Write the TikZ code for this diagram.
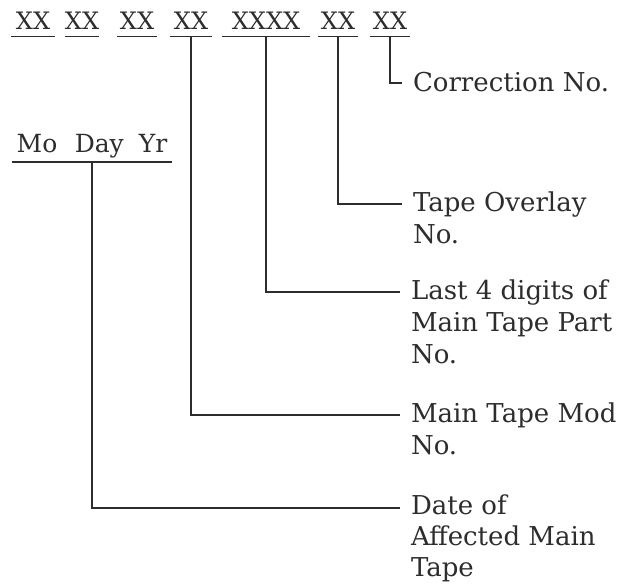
\documentclass[tikz,border=0pt]{standalone}
\usepackage{fontspec}
\setmainfont{DejaVu Serif}
\usetikzlibrary{positioning}
\definecolor{ink}{RGB}{45,45,45}
\tikzset{
  code/.style={anchor=base, inner xsep=0pt, inner ysep=6.5pt, text depth=0pt,
               font=\fontsize{24}{28}\selectfont, text=ink},
  rule/.style={draw=ink, line width=1.4pt},
  lbl/.style={anchor=north west, align=left, inner sep=0pt, outer xsep=12pt,
              outer ysep=0pt, font=\fontsize{26}{32}\selectfont, text=ink},
}

\begin{document}
\begin{tikzpicture}[x=1pt, y=-1pt,
      tap/.style={rule, line cap=rect}]
    \useasboundingbox (0,0) rectangle (629,585);
    % part number code
    \node[code, minimum width=43pt] (d1) at (33,30) {XX};
    \node[code, minimum width=34pt] (d2) at (82,30) {XX};
    \node[code, minimum width=40pt] (d3) at (137,30) {XX};
    \node[code, minimum width=42pt] (mod) at (191,30) {XX};
    \node[code, minimum width=88pt] (part) at (266,30) {XXXX};
    \node[code, minimum width=40pt] (ovl) at (338,30) {XX};
    \node[code, minimum width=40pt] (corr) at (390,30) {XX};
    \node[code, inner ysep=9pt, minimum width=160pt, font=\fontsize{25}{28}\selectfont]
      (mdy) at (92,153) {Mo\hspace{0.7em}Day\hspace{0.6em}Yr};
    \foreach \n in {d1,d2,d3,mod,part,ovl,corr,mdy}
      \draw[rule] (\n.south west) -- (\n.south east);
    % labels
    \node[lbl] (lcorr) at (401,72) {Correction No.};
    \node[lbl] (lovl) at (401,192) {Tape Overlay\\No.};
    \node[lbl] (lpart) at (399,280) {Last 4 digits of\\Main Tape Part\\No.};
    \node[lbl] (lmod) at (399,403) {Main Tape Mod\\No.};
    \node[lbl, font=\fontsize{26}{31}\selectfont] (ldate) at (399,495) {Date of\\Affected Main\\Tape};
    % leaders
    \draw[tap] (corr.south) |- ([yshift=-11pt]lcorr.north west);
    \draw[tap] (ovl.south) |- ([yshift=-12pt]lovl.north west);
    \draw[tap] (part.south) |- ([yshift=-12pt]lpart.north west);
    \draw[tap] (mod.south) |- ([yshift=-12pt]lmod.north west);
    \draw[tap] (mdy.south) |- ([yshift=-13pt]ldate.north west);
  \end{tikzpicture}
\end{document}
